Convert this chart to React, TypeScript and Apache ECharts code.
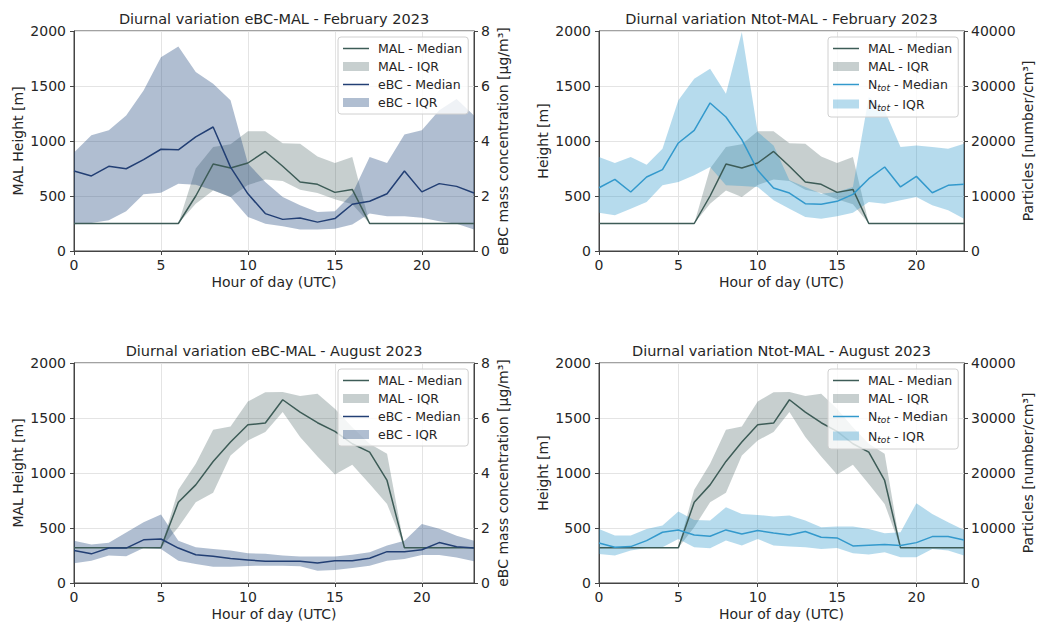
import React, { useEffect, useRef } from "react";
import * as echarts from "echarts";

const hours = [0, 1, 2, 3, 4, 5, 6, 7, 8, 9, 10, 11, 12, 13, 14, 15, 16, 17, 18, 19, 20, 21, 22, 23];

// February 2023 — mixing layer height (m)
const febMalMedian = [250, 250, 250, 250, 250, 250, 250, 500, 790, 755, 800, 905, 770, 627, 606, 533, 560, 250, 250, 250, 250, 250, 250, 250];
const febMalLow = [250, 250, 250, 250, 250, 250, 250, 430, 550, 490, 600, 650, 636, 557, 527, 470, 424, 250, 250, 250, 250, 250, 250, 250];
const febMalHigh = [250, 250, 250, 250, 250, 250, 250, 750, 945, 970, 1088, 1088, 980, 975, 860, 800, 855, 250, 250, 250, 250, 250, 250, 250];
// February 2023 — eBC (µg/m³)
const febEbcMedian = [2.91, 2.73, 3.08, 2.99, 3.32, 3.7, 3.68, 4.15, 4.51, 3.05, 2.08, 1.36, 1.15, 1.2, 1.05, 1.18, 1.7, 1.81, 2.08, 2.91, 2.15, 2.45, 2.35, 2.11];
const febEbcLow = [0.97, 1.02, 1.12, 1.45, 2.06, 2.12, 2.45, 2.41, 2.21, 1.96, 1.24, 0.99, 0.9, 0.78, 0.78, 0.81, 0.96, 1.36, 1.26, 1.26, 1.21, 1.08, 0.99, 0.78];
const febEbcHigh = [3.58, 4.21, 4.39, 4.93, 5.84, 7.05, 7.44, 6.51, 6.08, 5.48, 3.18, 2.51, 1.96, 1.66, 1.42, 1.45, 2.08, 3.42, 3.2, 4.24, 4.39, 5.12, 5.53, 4.93];
// February 2023 — Ntot (number/cm³)
const febNtotMedian = [11500, 13030, 10730, 13450, 14790, 19640, 21940, 26910, 24360, 20240, 14670, 11450, 10540, 8600, 8480, 9030, 10300, 13150, 15270, 11640, 13570, 10600, 11940, 12120];
const febNtotLow = [6970, 6480, 7700, 8900, 11940, 12540, 13760, 15270, 11940, 11820, 11640, 9210, 7700, 6180, 5880, 6300, 6970, 8900, 8600, 9210, 9820, 8300, 7390, 5880];
const febNtotHigh = [17090, 16000, 17090, 15700, 18600, 27390, 31330, 33150, 28600, 39800, 21630, 19200, 12850, 11640, 10420, 10730, 11640, 28000, 25570, 18900, 19200, 18900, 18600, 19500];

// August 2023 — mixing layer height (m)
const augMalMedian = [320, 320, 320, 320, 320, 320, 734, 892, 1105, 1281, 1439, 1454, 1666, 1554, 1457, 1378, 1266, 1190, 932, 320, 320, 320, 320, 320];
const augMalLow = [320, 320, 320, 320, 320, 320, 507, 734, 820, 1160, 1296, 1372, 1554, 1327, 1150, 986, 1074, 901, 719, 320, 320, 320, 320, 320];
const augMalHigh = [320, 320, 320, 320, 320, 320, 847, 1083, 1393, 1423, 1651, 1733, 1736, 1700, 1721, 1584, 1417, 1266, 1175, 320, 320, 320, 320, 320];
// August 2023 — eBC (µg/m³)
const augEbcMedian = [1.18, 1.06, 1.27, 1.27, 1.57, 1.6, 1.27, 1.03, 0.97, 0.89, 0.84, 0.79, 0.79, 0.79, 0.73, 0.81, 0.81, 0.9, 1.14, 1.14, 1.21, 1.47, 1.32, 1.27];
const augEbcLow = [0.72, 0.81, 1.0, 0.97, 1.27, 1.24, 0.81, 0.69, 0.59, 0.59, 0.62, 0.63, 0.63, 0.61, 0.45, 0.47, 0.55, 0.63, 0.81, 0.87, 1.02, 1.02, 0.93, 0.79];
const augEbcHigh = [1.54, 1.4, 1.46, 1.84, 2.21, 2.49, 1.54, 1.3, 1.24, 1.18, 1.08, 1.06, 1.0, 0.96, 0.96, 0.96, 1.03, 1.12, 1.36, 1.54, 2.15, 1.97, 1.72, 1.54];
// August 2023 — Ntot (number/cm³)
const augNtotMedian = [7280, 6500, 6620, 7710, 9230, 9650, 8740, 8500, 9650, 8920, 9530, 9100, 8740, 9350, 8320, 8200, 6740, 6860, 6980, 6800, 7340, 8440, 8440, 7830];
const augNtotLow = [5280, 4980, 5890, 6370, 6500, 8010, 6500, 6310, 7710, 6800, 8010, 6800, 6620, 6500, 6190, 6370, 5400, 5160, 5580, 4670, 4670, 6190, 5890, 4980];
const augNtotHigh = [9830, 8620, 8620, 9830, 10440, 12990, 11470, 11350, 13780, 12560, 12380, 12080, 12260, 11350, 10140, 10260, 10260, 9830, 9040, 9230, 14510, 12560, 11050, 9650];

const titles = [
  "Diurnal variation eBC-MAL - February 2023",
  "Diurnal variation Ntot-MAL - February 2023",
  "Diurnal variation eBC-MAL - August 2023",
  "Diurnal variation Ntot-MAL - August 2023",
];
const heightTicks = [0, 500, 1000, 1500, 2000];
const ebcTicks = [0, 2, 4, 6, 8];
const ntotTicks = [0, 10000, 20000, 30000, 40000];
const hourTicks = [0, 5, 10, 15, 20];

const FONT = "DejaVu Sans";
const TXT = "#262626";
const MAL_LINE = "#3d5c57";
const MAL_FILL = "rgba(47,79,79,0.27)";
const EBC_LINE = "#223f74";
const EBC_FILL = "rgba(35,75,127,0.36)";
const NTOT_LINE = "#3399cc";
const NTOT_FILL = "rgba(46,151,204,0.35)";

const grids = [
  { left: 74, top: 31, width: 400, height: 220 },
  { left: 599, top: 31, width: 365, height: 220 },
  { left: 74, top: 363, width: 400, height: 220 },
  { left: 599, top: 363, width: 365, height: 220 },
];

function bandSeries(name: string, xi: number, yi: number, low: number[], high: number[], fill: string) {
  return {
    type: "custom",
    name,
    xAxisIndex: xi,
    yAxisIndex: yi,
    silent: true,
    itemStyle: { color: fill },
    data: [[hours[0], low[0]]],
    renderItem: (_params: any, api: any) => {
      const pts: number[][] = [];
      for (let i = 0; i < hours.length; i++) pts.push(api.coord([hours[i], high[i]]));
      for (let i = hours.length - 1; i >= 0; i--) pts.push(api.coord([hours[i], low[i]]));
      return { type: "polygon", shape: { points: pts }, style: { fill, stroke: "none" } };
    },
  };
}

function lineSeries(name: string, xi: number, yi: number, vals: number[], color: string) {
  return {
    type: "line",
    name,
    xAxisIndex: xi,
    yAxisIndex: yi,
    data: hours.map((h, i) => [h, vals[i]]),
    symbol: "none",
    showSymbol: false,
    lineStyle: { color, width: 1.5 },
    itemStyle: { color },
    emphasis: { disabled: true },
    silent: true,
  };
}

const plain = (v: number) => String(v);

export default function App() {
  const ref = useRef<HTMLDivElement>(null);
  useEffect(() => {
    if (!ref.current) return;
    const chart = echarts.init(ref.current, undefined, { renderer: "svg" });

    const xAxes = grids.map((_, gi) => ({
      type: "value",
      gridIndex: gi,
      min: 0,
      max: 23,
      interval: 5,
      name: "Hour of day (UTC)",
      nameLocation: "middle",
      nameGap: 24,
      nameTextStyle: { fontFamily: FONT, fontSize: 14, color: TXT },
      axisLine: { show: true, lineStyle: { color: "#444", width: 1 } },
      axisTick: { show: true, inside: false, length: 4, lineStyle: { color: "#444" } },
      axisLabel: {
        fontFamily: FONT,
        fontSize: 14,
        color: TXT,
        margin: 7,
        showMaxLabel: false,
        formatter: (v: number) => (hourTicks.indexOf(v) >= 0 ? String(v) : ""),
      },
      splitLine: { show: true, lineStyle: { color: "#e4e4e4", width: 1 } },
    }));

    const leftNames = ["MAL Height [m]", "Height [m]", "MAL Height [m]", "Height [m]"];
    const rightNames = [
      "eBC mass concentration [μg/m³]",
      "Particles [number/cm³]",
      "eBC mass concentration [μg/m³]",
      "Particles [number/cm³]",
    ];
    const yAxes: any[] = [];
    grids.forEach((_, gi) => {
      yAxes.push({
        type: "value",
        gridIndex: gi,
        position: "left",
        min: heightTicks[0],
        max: heightTicks[heightTicks.length - 1],
        interval: heightTicks[1] - heightTicks[0],
        name: leftNames[gi],
        nameLocation: "middle",
        nameRotate: 90,
        nameGap: 49,
        nameTextStyle: { fontFamily: FONT, fontSize: 14, color: TXT },
        axisLine: { show: true, lineStyle: { color: "#444" } },
        axisTick: { show: true, inside: false, length: 4, lineStyle: { color: "#444" } },
        axisLabel: { fontFamily: FONT, fontSize: 14, color: TXT, margin: 8, formatter: plain },
        splitLine: { show: true, lineStyle: { color: "#e4e4e4", width: 1 } },
      });
      const isEbc = gi % 2 === 0;
      const rt = isEbc ? ebcTicks : ntotTicks;
      yAxes.push({
        type: "value",
        gridIndex: gi,
        position: "right",
        min: rt[0],
        max: rt[rt.length - 1],
        interval: rt[1] - rt[0],
        name: rightNames[gi],
        nameLocation: "middle",
        nameRotate: 90,
        nameGap: isEbc ? 22 : 57,
        nameTextStyle: { fontFamily: FONT, fontSize: 14, color: TXT },
        axisLine: { show: true, lineStyle: { color: "#444" } },
        axisTick: { show: true, inside: false, length: 4, lineStyle: { color: "#444" } },
        axisLabel: { fontFamily: FONT, fontSize: 14, color: TXT, margin: 7, formatter: plain },
        splitLine: { show: false },
      });
    });

    const series: any[] = [
      // Feb eBC
      bandSeries("MAL - IQR", 0, 0, febMalLow, febMalHigh, MAL_FILL),
      lineSeries("MAL - Median", 0, 0, febMalMedian, MAL_LINE),
      bandSeries("eBC - IQR", 0, 1, febEbcLow, febEbcHigh, EBC_FILL),
      lineSeries("eBC - Median", 0, 1, febEbcMedian, EBC_LINE),
      // Feb Ntot
      bandSeries("MAL - IQR", 1, 2, febMalLow, febMalHigh, MAL_FILL),
      lineSeries("MAL - Median", 1, 2, febMalMedian, MAL_LINE),
      bandSeries("Ntot - IQR", 1, 3, febNtotLow, febNtotHigh, NTOT_FILL),
      lineSeries("Ntot - Median", 1, 3, febNtotMedian, NTOT_LINE),
      // Aug eBC
      bandSeries("MAL - IQR", 2, 4, augMalLow, augMalHigh, MAL_FILL),
      lineSeries("MAL - Median", 2, 4, augMalMedian, MAL_LINE),
      bandSeries("eBC - IQR", 2, 5, augEbcLow, augEbcHigh, EBC_FILL),
      lineSeries("eBC - Median", 2, 5, augEbcMedian, EBC_LINE),
      // Aug Ntot
      bandSeries("MAL - IQR", 3, 6, augMalLow, augMalHigh, MAL_FILL),
      lineSeries("MAL - Median", 3, 6, augMalMedian, MAL_LINE),
      bandSeries("Ntot - IQR", 3, 7, augNtotLow, augNtotHigh, NTOT_FILL),
      lineSeries("Ntot - Median", 3, 7, augNtotMedian, NTOT_LINE),
    ];

    const legendPos = [
      { left: 338, top: 37 },
      { left: 828, top: 37 },
      { left: 338, top: 369 },
      { left: 828, top: 369 },
    ];
    const legends = legendPos.map((p, gi) => {
      const other = gi % 2 === 0 ? "eBC" : "Ntot";
      const otherLine = gi % 2 === 0 ? EBC_LINE : NTOT_LINE;
      const otherFill = gi % 2 === 0 ? EBC_FILL : NTOT_FILL;
      return {
        show: true,
        orient: "vertical",
        left: p.left,
        top: p.top,
        itemWidth: 26,
        itemHeight: 9,
        itemGap: 5,
        padding: [5, 6, 5, 5],
        backgroundColor: "rgba(255,255,255,0.8)",
        borderColor: "#d0d0d0",
        borderWidth: 1,
        borderRadius: 3,
        selectedMode: false,
        data: [
          { name: "MAL - Median", icon: "path://M0,0L26,0L26,1.5L0,1.5Z", itemStyle: { color: MAL_LINE } },
          { name: "MAL - IQR", icon: "rect", itemStyle: { color: MAL_FILL } },
          { name: other + " - Median", icon: "path://M0,0L26,0L26,1.5L0,1.5Z", itemStyle: { color: otherLine } },
          { name: other + " - IQR", icon: "rect", itemStyle: { color: otherFill } },
        ],
        formatter: (name: string) => {
          if (name.indexOf("Ntot") === 0) {
            return "{n|N}{s|tot}{n|" + name.slice(4) + "}";
          }
          return "{n|" + name + "}";
        },
        textStyle: {
          fontFamily: FONT,
          fontSize: 12.5,
          color: TXT,
          padding: [0, 0, 0, 4],
          rich: {
            n: { fontFamily: FONT, fontSize: 12.5, color: TXT, lineHeight: 16, verticalAlign: "middle" },
            s: { fontFamily: FONT, fontSize: 9, fontStyle: "italic", color: TXT, lineHeight: 16, verticalAlign: "bottom" },
          },
        },
      };
    });

    const titleCenters = [
      { x: 274, y: 11 },
      { x: 781.5, y: 11 },
      { x: 274, y: 343 },
      { x: 781.5, y: 343 },
    ];

    chart.setOption({
      animation: false,
      backgroundColor: "#ffffff",
      title: titles.map((t, i) => ({
        text: t,
        left: titleCenters[i].x,
        top: titleCenters[i].y,
        textAlign: "center",
        padding: 0,
        textStyle: { fontFamily: FONT, fontSize: 14.5, fontWeight: "normal", color: TXT },
      })),
      grid: grids.map((g) => ({
        left: g.left,
        top: g.top,
        width: g.width,
        height: g.height,
        show: true,
        borderColor: "#444",
        borderWidth: 1,
        backgroundColor: "transparent",
        containLabel: false,
      })),
      legend: legends,
      xAxis: xAxes,
      yAxis: yAxes,
      series,
    });
    return () => chart.dispose();
  }, []);

  return (
    <div
      ref={ref}
      style={{ position: "fixed", left: 0, top: 0, width: 1037, height: 622, background: "#fff" }}
    />
  );
}
